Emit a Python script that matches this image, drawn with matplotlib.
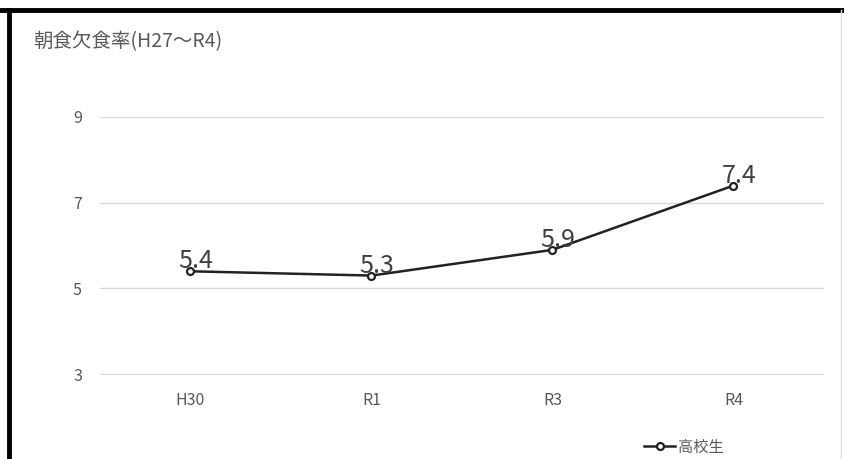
import matplotlib
matplotlib.use("Agg")
import matplotlib.pyplot as plt
from matplotlib.lines import Line2D

plt.rcParams['font.family'] = ['Noto Sans CJK JP', 'DejaVu Sans']

# data
years = ["H30", "R1", "R3", "R4"]
rate = [5.4, 5.3, 5.9, 7.4]
yticks = [3, 5, 7, 9]
title = "朝食欠食率(H27〜R4)"
series_name = "高校生"

W, H = 845, 459
fig = plt.figure(figsize=(W / 100, H / 100), dpi=100)
ax = fig.add_axes([100 / W, 84 / H, 724 / W, 258 / H])

ax.plot(range(len(years)), rate, color="#222222", lw=1.8, marker="o",
        ms=5, mfc="white", mec="#222222", mew=1.6, label=series_name)

for i, v in enumerate(rate):
    ax.text(i + 0.03, v + 0.07, f"{v}", ha="center", va="baseline",
            fontsize=18, color="#404040")

ax.set_xlim(-0.5, len(years) - 0.5)
ax.set_ylim(2.98, 9.0)
ax.set_xticks(range(len(years)))
ax.set_xticklabels(years)
ax.set_yticks(yticks)
ax.tick_params(length=0, colors="#595959", labelsize=11.5)
ax.tick_params(axis="y", pad=13)
ax.tick_params(axis="x", pad=12)
ax.grid(axis="y", color="#d9d9d9", lw=1)
ax.set_axisbelow(True)
for s in ax.spines.values():
    s.set_visible(False)
ax.patch.set_alpha(0)

fig.text(33 / W, 1 - 42 / H, title, fontsize=14, color="#595959",
         ha="left", va="center")

ax.legend(loc="center", bbox_to_anchor=(684 / W, 1 - 447 / H),
          bbox_transform=fig.transFigure, frameon=False, fontsize=11,
          labelcolor="#595959", handlelength=2.0, handletextpad=0.2)

# frame of the screenshot
fig.add_artist(Line2D([0, 1], [1 - 10 / H, 1 - 10 / H], color="black", lw=3.5,
                      transform=fig.transFigure))
fig.add_artist(Line2D([9 / W, 9 / W], [0, 1 - 10 / H], color="black", lw=3.5,
                      transform=fig.transFigure))
fig.add_artist(Line2D([841 / W, 841 / W], [0, 1 - 10 / H], color="#e0e0e0", lw=1,
                      transform=fig.transFigure))

fig.savefig("out.png", dpi=100)
